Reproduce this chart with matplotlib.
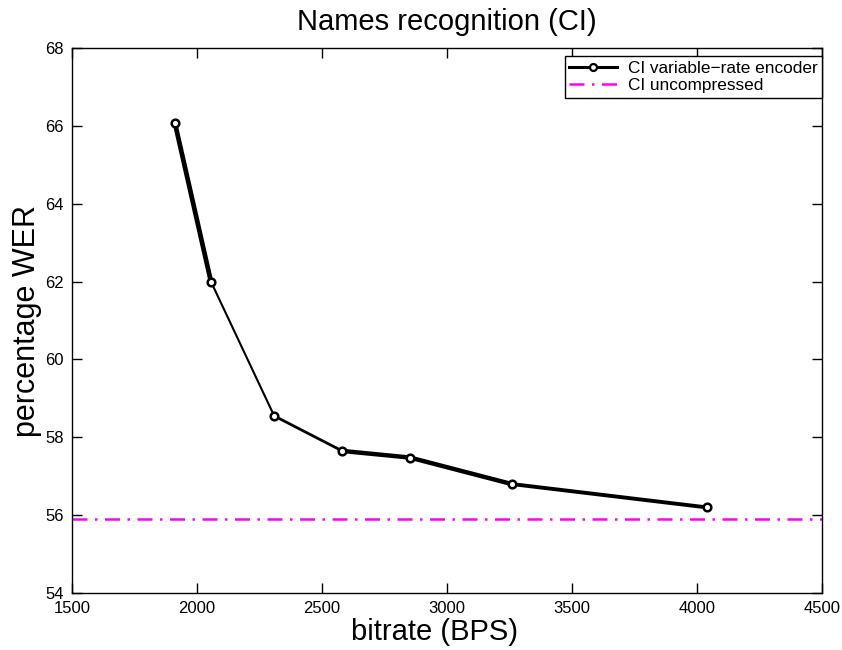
import matplotlib
matplotlib.use("Agg")
import matplotlib.pyplot as plt
import numpy as np

plt.rcParams['font.family'] = ['Liberation Sans', 'DejaVu Sans']

bitrate = [1912, 2056, 2309, 2581, 2852, 3259, 4039]
wer = [66.07, 62.0, 58.55, 57.65, 57.48, 56.80, 56.20]
uncompressed_wer = 55.90
seg_widths = [3.4, 1.5, 2.0, 3.2, 3.2, 2.8]

fig = plt.figure(figsize=(8.42, 6.5), dpi=100)
ax = fig.add_axes([0.0855, 0.0877, 0.976 - 0.0855, 0.926 - 0.0877])

for i in range(len(bitrate) - 1):
    ax.plot(bitrate[i:i + 2], wer[i:i + 2], color='black', lw=seg_widths[i],
            solid_capstyle='round', zorder=2)
ax.plot(bitrate, wer, color='black', lw=0, marker='o', markersize=5.5,
        markerfacecolor='white', markeredgecolor='black', markeredgewidth=1.8, zorder=3)
line_handle, = ax.plot([], [], color='black', lw=2.2, marker='o', markersize=5,
                       markerfacecolor='white', markeredgecolor='black',
                       markeredgewidth=1.6, label='CI variable\u2212rate encoder')
ax.axhline(uncompressed_wer, color='#ff00ff', lw=1.8, linestyle=(0, (6, 3, 1, 3)),
           label='CI uncompressed', zorder=1)

ax.set_xlim(1500, 4500)
ax.set_ylim(54, 68)
ax.set_xticks(np.arange(1500, 4501, 500))
ax.set_yticks(np.arange(54, 69, 2))
ax.tick_params(direction='in', length=7, top=True, right=True, labelsize=12, width=1, pad=6)
for s in ax.spines.values():
    s.set_linewidth(1)

ax.set_title('Names recognition (CI)', fontsize=21, pad=13)
ax.set_xlabel('bitrate (BPS)', fontsize=21, labelpad=2)
ax.xaxis.set_label_coords(0.483, -0.045, transform=ax.transAxes)
ax.xaxis.label.set_va('top')
ax.set_ylabel('percentage WER', fontsize=22, labelpad=2)

leg = ax.legend(loc='upper right', bbox_to_anchor=(1.0, 0.985), fontsize=12.4,
                frameon=True, fancybox=False, edgecolor='black', framealpha=1,
                borderaxespad=0, handlelength=2.8, borderpad=0.25, labelspacing=0.15,
                handletextpad=0.6)
leg.get_frame().set_linewidth(1)

fig.savefig('out.png', dpi=100)
